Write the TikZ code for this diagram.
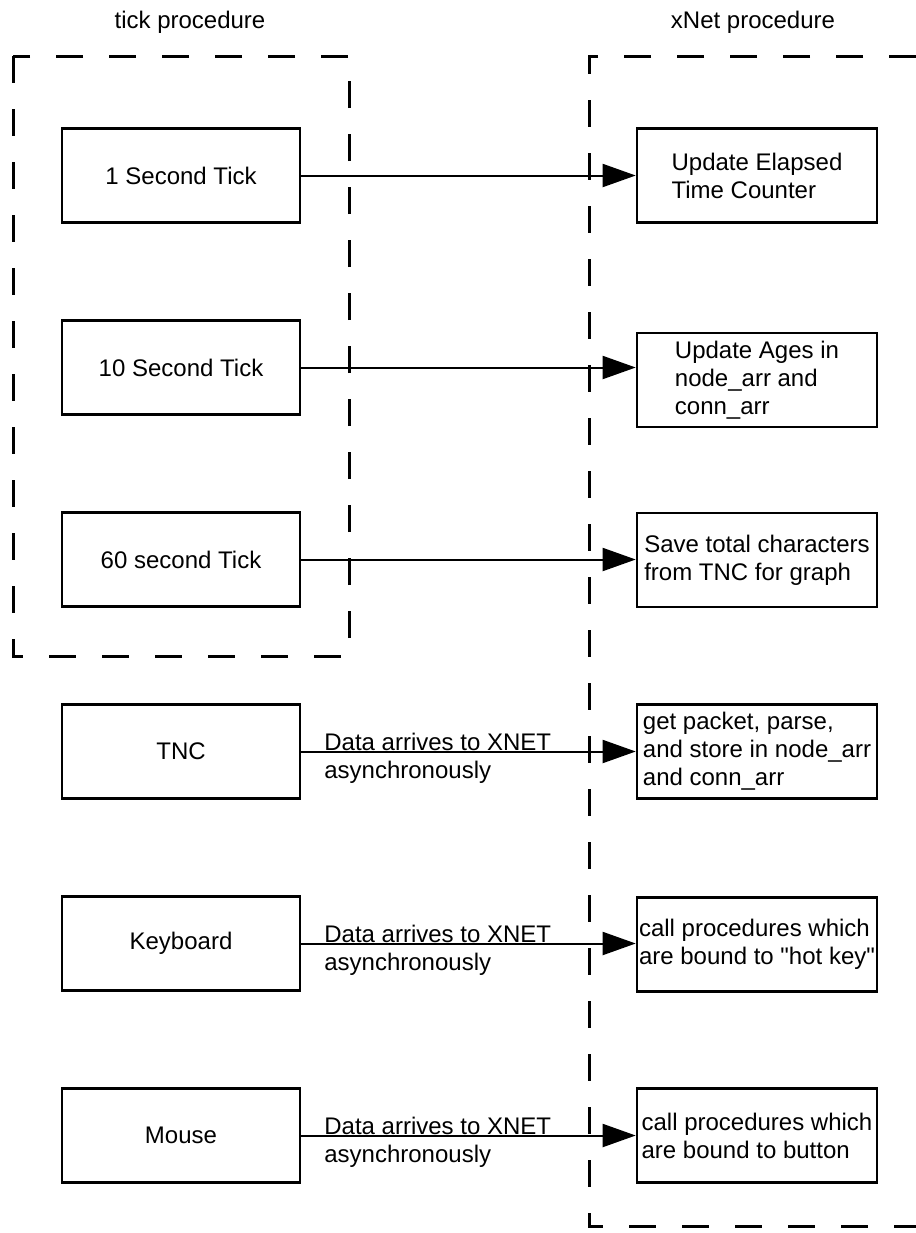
\documentclass[tikz,border=0pt]{standalone}
\usepackage{fontspec}
\setmainfont{Liberation Sans}
% same face without TeX ligature mapping, so that " stays straight
\newfontfamily\plainfont{Liberation Sans}
\usetikzlibrary{arrows.meta}
\begin{document}
\begin{tikzpicture}[x=0.5pt,y=-0.5pt,
  every node/.style={font=\fontsize{12pt}{14pt}\selectfont, inner sep=0pt},
  procbox/.style={draw, line width=1.3pt, minimum width=119pt, minimum height=47pt, align=center},
  taskbox/.style={draw, line width=1.3pt, minimum width=120pt, minimum height=47pt, align=left},
  frame/.style={line width=1.5pt, dash pattern=on 13.5pt off 13pt},
  flow/.style={line width=1pt, -{Triangle[length=16.5pt,width=11.5pt]}},
  note/.style={pos=0.408, yshift=-3.5pt, align=left}]
\path[use as bounding box, clip] (0,0) rectangle (916,1233);

% column titles
\node (tt) at (190,22) {tick procedure};
\node (xt) at (753,22) {xNet procedure};

% procedure frames
\draw[frame] (13,56) rectangle (349,656);
\draw[frame] (916,56) -| (589,1226) -- (916,1226);

% event sources
\node[procbox] (l1) at (181,175.5) {1 Second Tick};
\node[procbox] (l2) at (181,367.5) {10 Second Tick};
\node[procbox] (l3) at (181,559.5) {60 second Tick};
\node[procbox] (l4) at (181,751.5) {TNC};
\node[procbox] (l5) at (181,943.5) {Keyboard};
\node[procbox] (l6) at (181,1135.5) {Mouse};

% xNet handlers
\node[taskbox] (r1) at (757,175.5) {Update Elapsed\\Time Counter};
\node[taskbox] (r2) at (757,380) {Update Ages in\\node\_arr and\\conn\_arr};
\node[taskbox] (r3) at (757,560) {Save total characters\\from TNC for graph};
\node[taskbox] (r4) at (757,751.5) {get packet, parse,\\and store in node\_arr\\and conn\_arr};
\node[taskbox] (r5) at (757,944.5) {call procedures which\\are bound to {\plainfont"}hot key{\plainfont"}};
\node[taskbox] (r6) at (757,1135.5) {call procedures which\\are bound to button};

% connections
\draw[flow] (l1.east) -- (l1.east -| r1.west);
\draw[flow] (l2.east) -- (l2.east -| r2.west);
\draw[flow] (l3.east) -- (l3.east -| r3.west);
\draw[flow] (l4.east) -- node[note] {Data arrives to XNET\\asynchronously} (l4.east -| r4.west);
\draw[flow] (l5.east) -- node[note] {Data arrives to XNET\\asynchronously} (l5.east -| r5.west);
\draw[flow] (l6.east) -- node[note] {Data arrives to XNET\\asynchronously} (l6.east -| r6.west);
\end{tikzpicture}
\end{document}
